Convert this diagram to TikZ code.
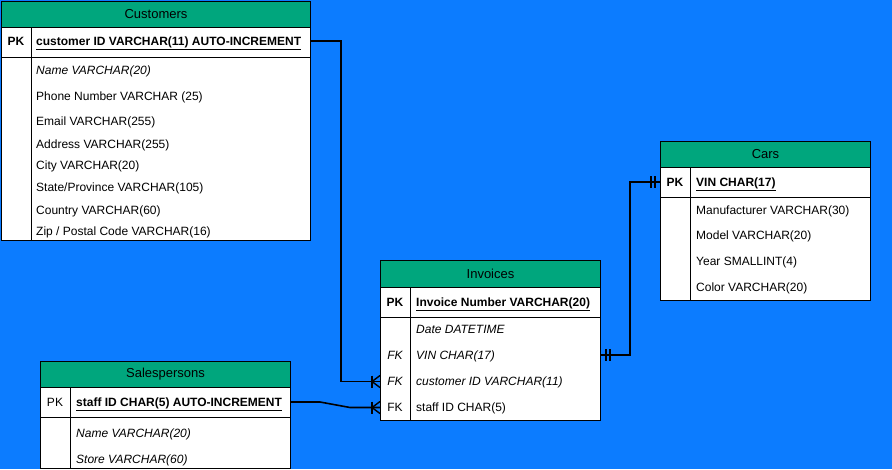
\documentclass[tikz,border=0pt]{standalone}
\usepackage{fontspec}
\setmainfont{Liberation Sans}
\definecolor{bgblue}{RGB}{12,124,255}
\definecolor{hdrgreen}{RGB}{0,166,125}
\tikzset{
  tblhdr/.style={draw=black, line width=1pt, fill=hdrgreen, anchor=north west, inner sep=0pt, font=\fontsize{13}{15}\selectfont},
  tblbox/.style={draw=black, line width=1pt, fill=white, anchor=north west, inner sep=0pt},
  fld/.style={anchor=west, inner sep=0pt, text height=8.6pt, text depth=0pt, font=\fontsize{12}{14}\selectfont},
  keylbl/.style={anchor=center, inner sep=0pt, text height=8.6pt, text depth=0pt, font=\fontsize{12}{14}\selectfont},
  divline/.style={draw=black, line width=1pt},
  conn/.style={draw=black, line width=1.6pt},
  erstroke/.style={draw=black, line width=1.4pt}
}
\begin{document}
\begin{tikzpicture}[x=1pt,y=-1pt]
\useasboundingbox (0,0) rectangle (892,469);
\fill[bgblue] (0,0) rectangle (892,469);

% ---------- Customers ----------
\node[tblhdr, minimum width=309pt, minimum height=26pt] (custH) at (1,1) {Customers};
\node[tblbox, minimum width=309pt, minimum height=30pt] (custPK) at (1,27) {};
\node[tblbox, minimum width=309pt, minimum height=183pt] (custB) at (1,57) {};
\draw[divline] (31,27) -- (31,240);
\node[keylbl] (custPKl) at (16,41) {\bfseries PK};
\node[fld] (custid) at (36,41) {\bfseries\underline{customer ID VARCHAR(11) AUTO-INCREMENT}};
\node[fld] (custname) at (36,70) {\itshape Name VARCHAR(20)};
\node[fld] (custphone) at (36,96) {Phone Number VARCHAR (25)};
\node[fld] (custemail) at (36,121.5) {Email VARCHAR(255)};
\node[fld] (custaddr) at (36,144) {Address VARCHAR(255)};
\node[fld] (custcity) at (36,165.5) {City VARCHAR(20)};
\node[fld] (custstate) at (36,187.5) {State/Province VARCHAR(105)};
\node[fld] (custcountry) at (36,210) {Country VARCHAR(60)};
\node[fld] (custzip) at (36,231.5) {Zip / Postal Code VARCHAR(16)};

% ---------- Cars ----------
\node[tblhdr, minimum width=210pt, minimum height=26pt] (carH) at (660,141) {Cars};
\node[tblbox, minimum width=210pt, minimum height=30pt] (carPK) at (660,167) {};
\node[tblbox, minimum width=210pt, minimum height=103pt] (carB) at (660,197) {};
\draw[divline] (690,167) -- (690,300);
\node[keylbl] (carPKl) at (675,182) {\bfseries PK};
\node[fld] (carvin) at (696,182) {\bfseries\underline{VIN CHAR(17)}};
\node[fld] (carman) at (696,210) {Manufacturer VARCHAR(30)};
\node[fld] (carmodel) at (696,235.5) {Model VARCHAR(20)};
\node[fld] (caryear) at (696,261.5) {Year SMALLINT(4)};
\node[fld] (carcolor) at (696,287.5) {Color VARCHAR(20)};

% ---------- Invoices ----------
\node[tblhdr, minimum width=220pt, minimum height=27pt] (invH) at (380,260) {Invoices};
\node[tblbox, minimum width=220pt, minimum height=30pt] (invPK) at (380,287) {};
\node[tblbox, minimum width=220pt, minimum height=103pt] (invB) at (380,317) {};
\draw[divline] (410,287) -- (410,420);
\node[keylbl] (invPKl) at (395,302) {\bfseries PK};
\node[fld] (invnum) at (416,302) {\bfseries\underline{Invoice Number VARCHAR(20)}};
\node[fld] (invdate) at (416,329) {\itshape Date DATETIME};
\node[keylbl] (invFK1) at (395,355) {\itshape FK};
\node[fld] (invvin) at (416,355) {\itshape VIN CHAR(17)};
\node[keylbl] (invFK2) at (395,381.5) {\itshape FK};
\node[fld] (invcust) at (416,381.5) {\itshape customer ID VARCHAR(11)};
\node[keylbl] (invFK3) at (395,407.5) {FK};
\node[fld] (invstaff) at (416,407.5) {staff ID CHAR(5)};

% ---------- Salespersons ----------
\node[tblhdr, minimum width=250pt, minimum height=26pt] (salH) at (40,361) {Salespersons};
\node[tblbox, minimum width=250pt, minimum height=30pt] (salPK) at (40,387) {};
\node[tblbox, minimum width=250pt, minimum height=51pt] (salB) at (40,417) {};
\draw[divline] (70,387) -- (70,468);
\node[keylbl] (salPKl) at (55,402) {PK};
\node[fld] (salid) at (76,402) {\bfseries\underline{staff ID CHAR(5) AUTO-INCREMENT}};
\node[fld] (salname) at (76,433) {\itshape Name VARCHAR(20)};
\node[fld] (salstore) at (76,459) {\itshape Store VARCHAR(60)};

% ---------- connector end points ----------
\coordinate (custOut) at (custPK.east |- custid);
\coordinate (invCustIn) at (invB.west |- invcust);
\coordinate (salOut) at (salPK.east |- salid);
\coordinate (invStaffIn) at (invB.west |- invstaff);
\coordinate (invVinOut) at (invB.east |- invvin);
\coordinate (carIn) at (carPK.west |- carvin);

% Customers -> Invoices
\draw[conn] (custOut) -- (341,41) -- (341,381.5) -- (invCustIn);
\draw[erstroke] ([xshift=-8pt]invCustIn) -- ++(8,-6);
\draw[erstroke] ([xshift=-8pt]invCustIn) -- ++(8,6);
\draw[erstroke] ([xshift=-8pt]invCustIn) ++(0,-6) -- ++(0,12);

% Salespersons -> Invoices
\draw[conn] (salOut) -- (320,402) -- (350,407.5) -- (invStaffIn);
\draw[erstroke] ([xshift=-8pt]invStaffIn) -- ++(8,-6);
\draw[erstroke] ([xshift=-8pt]invStaffIn) -- ++(8,6);
\draw[erstroke] ([xshift=-8pt]invStaffIn) ++(0,-6) -- ++(0,12);

% Invoices -> Cars
\draw[conn] (invVinOut) -- (630,355) -- (630,182) -- (carIn);
\draw[erstroke] ([xshift=5pt]invVinOut) ++(0,-6) -- ++(0,12);
\draw[erstroke] ([xshift=9pt]invVinOut) ++(0,-6) -- ++(0,12);
\draw[erstroke] ([xshift=-5pt]carIn) ++(0,-6) -- ++(0,12);
\draw[erstroke] ([xshift=-9pt]carIn) ++(0,-6) -- ++(0,12);
\end{tikzpicture}
\end{document}
